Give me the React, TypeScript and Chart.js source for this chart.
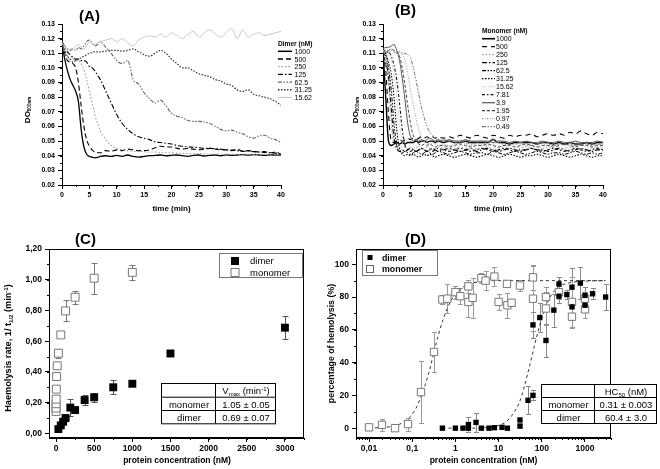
import React, { useEffect, useRef } from 'react';
import { Chart, registerables } from 'chart.js';

Chart.register(...registerables);

const FF = '"Liberation Sans", Arial, Helvetica, sans-serif';

// ================= Panel A : dimer kinetics =================
const timesA = [0, 0.5, 1, 1.5, 2, 2.5, 3, 3.5, 4, 4.5, 5, 5.5, 6, 6.5, 7,
  8, 9, 10, 11, 12, 13, 14, 15, 16, 17, 18, 19, 20, 21, 22, 23, 24, 25, 26, 27, 28, 29, 30, 31, 32, 33, 34, 35, 36, 37, 38, 39, 40];
const dimerLabelsA = ['1000', '500', '250', '125', '62.5', '31.25', '15.62'];
const dimer1000 = [0.117, 0.106, 0.098, 0.092, 0.088, 0.084, 0.077, 0.058, 0.046, 0.041, 0.0395, 0.039, 0.0385, 0.0388, 0.0395,
  0.0400, 0.0395, 0.0402, 0.0396, 0.0405, 0.0395, 0.0390, 0.0395, 0.0400, 0.0402, 0.0405, 0.0400, 0.0403, 0.0405, 0.0400, 0.0396, 0.0402,
  0.0405, 0.0398, 0.0403, 0.0405, 0.0400, 0.0406, 0.0402, 0.0405, 0.0408, 0.0404, 0.0407, 0.0405, 0.0402, 0.0406, 0.0404, 0.0405];
const dimer500 = [0.117, 0.110, 0.105, 0.104, 0.103, 0.100, 0.090, 0.074, 0.060, 0.051, 0.0465, 0.044, 0.0425, 0.042, 0.042,
  0.0435, 0.043, 0.044, 0.0435, 0.0445, 0.044, 0.0435, 0.0435, 0.044, 0.0455, 0.0465, 0.046, 0.046, 0.045, 0.0445, 0.045, 0.0445,
  0.044, 0.0445, 0.045, 0.0445, 0.044, 0.044, 0.0435, 0.0445, 0.043, 0.0435, 0.043, 0.0425, 0.0428, 0.042, 0.0425, 0.041];
const dimer250 = [0.117, 0.110, 0.108, 0.106, 0.106, 0.105, 0.105, 0.103, 0.099, 0.092, 0.084, 0.076, 0.068, 0.062, 0.057,
  0.051, 0.047, 0.045, 0.044, 0.0435, 0.043, 0.043, 0.0428, 0.0425, 0.0425, 0.042, 0.042, 0.042, 0.0418, 0.0415, 0.0415, 0.0413,
  0.0415, 0.0412, 0.041, 0.041, 0.0412, 0.041, 0.041, 0.0408, 0.041, 0.041, 0.0408, 0.0405, 0.041, 0.0405, 0.0405, 0.0405];
const dimer125 = [0.118, 0.114, 0.111, 0.109, 0.107, 0.106, 0.106, 0.105, 0.105, 0.104, 0.101, 0.100, 0.098, 0.095, 0.092,
  0.084, 0.076, 0.068, 0.062, 0.058, 0.055, 0.053, 0.052, 0.051, 0.0495, 0.049, 0.0485, 0.048, 0.047, 0.0465, 0.046, 0.0458,
  0.0455, 0.045, 0.045, 0.0448, 0.0445, 0.044, 0.0438, 0.0435, 0.043, 0.0432, 0.0428, 0.0425, 0.0423, 0.042, 0.0418, 0.041];
const dimer62 = [0.118, 0.115, 0.113, 0.112, 0.113, 0.112, 0.114, 0.113, 0.115, 0.118, 0.119, 0.117, 0.115, 0.116, 0.118,
  0.114, 0.110, 0.105, 0.103, 0.105, 0.092, 0.089, 0.083, 0.079, 0.076, 0.078, 0.074, 0.069, 0.067, 0.066, 0.064, 0.0635,
  0.0635, 0.063, 0.062, 0.060, 0.058, 0.057, 0.0575, 0.056, 0.055, 0.053, 0.052, 0.0535, 0.054, 0.052, 0.051, 0.049];
const dimer31 = [0.117, 0.112, 0.108, 0.106, 0.104, 0.105, 0.106, 0.107, 0.108, 0.109, 0.110, 0.1105, 0.111, 0.111, 0.111,
  0.1115, 0.112, 0.112, 0.1115, 0.112, 0.113, 0.111, 0.109, 0.108, 0.110, 0.112, 0.110, 0.106, 0.103, 0.100, 0.100, 0.098,
  0.096, 0.095, 0.094, 0.092, 0.091, 0.089, 0.088, 0.085, 0.084, 0.085, 0.082, 0.081, 0.080, 0.079, 0.077, 0.0745];
const dimer15 = [0.117, 0.114, 0.112, 0.113, 0.113, 0.115, 0.116, 0.114, 0.113, 0.115, 0.118, 0.117, 0.116, 0.117, 0.118,
  0.119, 0.120, 0.118, 0.120, 0.117, 0.115, 0.119, 0.121, 0.122, 0.121, 0.123, 0.121, 0.124, 0.122, 0.120, 0.123, 0.125,
  0.121, 0.124, 0.126, 0.123, 0.121, 0.124, 0.127, 0.120, 0.126, 0.121, 0.123, 0.124, 0.122, 0.123, 0.124, 0.125];
const xTicksA = [0, 5, 10, 15, 20, 25, 30, 35, 40];
const yTicksA = [0.02, 0.03, 0.04, 0.05, 0.06, 0.07, 0.08, 0.09, 0.10, 0.11, 0.12, 0.13];

// ================= Panel B : monomer kinetics =================
const timesB = [0, 0.5, 1, 1.5, 2, 2.5, 3, 3.5, 4, 4.5, 5, 5.5, 6, 6.5, 7, 7.5, 8, 8.5, 9, 9.5, 10,
  11, 12, 13, 14, 15, 16, 17, 18, 19, 20, 21, 22, 23, 24, 25, 26, 27, 28, 29, 30, 31, 32, 33, 34, 35, 36, 37, 38, 39, 40];
const monoLabelsB = ['1000', '500', '250', '125', '62.5', '31.25', '15.62', '7.81', '3.9', '1.95', '0.97', '0.49'];
const mono1000 = [0.112, 0.080, 0.050, 0.047, 0.048, 0.049, 0.048, 0.049, 0.048, 0.049, 0.049, 0.049, 0.050, 0.049, 0.050, 0.050, 0.049, 0.050, 0.050, 0.049, 0.050,
  0.049, 0.050, 0.049, 0.049, 0.050, 0.049, 0.049, 0.049, 0.049, 0.051, 0.049, 0.049, 0.048, 0.049, 0.049, 0.049, 0.049, 0.048, 0.049, 0.049,
  0.048, 0.049, 0.048, 0.049, 0.048, 0.048, 0.049, 0.048, 0.049, 0.049];
const mono500 = [0.110, 0.098, 0.068, 0.050, 0.049, 0.050, 0.051, 0.050, 0.051, 0.052, 0.051, 0.052, 0.051, 0.052, 0.053, 0.052, 0.053, 0.052, 0.053, 0.052, 0.053,
  0.052, 0.053, 0.052, 0.054, 0.053, 0.052, 0.054, 0.053, 0.052, 0.054, 0.053, 0.052, 0.054, 0.053, 0.054, 0.054, 0.055, 0.053, 0.054, 0.055,
  0.054, 0.055, 0.054, 0.056, 0.055, 0.057, 0.055, 0.054, 0.056, 0.055];
const mono250 = [0.112, 0.106, 0.088, 0.062, 0.047, 0.045, 0.046, 0.045, 0.046, 0.045, 0.046, 0.045, 0.046, 0.045, 0.044, 0.045, 0.046, 0.045, 0.044, 0.045, 0.046,
  0.045, 0.044, 0.045, 0.046, 0.045, 0.044, 0.045, 0.045, 0.046, 0.044, 0.045, 0.046, 0.045, 0.044, 0.045, 0.046, 0.045, 0.044, 0.045, 0.046,
  0.045, 0.044, 0.045, 0.046, 0.045, 0.045, 0.044, 0.045, 0.046, 0.045];
const mono125 = [0.108, 0.104, 0.094, 0.072, 0.052, 0.045, 0.043, 0.044, 0.043, 0.044, 0.045, 0.044, 0.043, 0.044, 0.045, 0.044, 0.043, 0.044, 0.045, 0.044, 0.043,
  0.044, 0.045, 0.044, 0.043, 0.044, 0.045, 0.043, 0.044, 0.045, 0.044, 0.043, 0.044, 0.045, 0.044, 0.043, 0.044, 0.045, 0.044, 0.044, 0.043,
  0.044, 0.045, 0.044, 0.043, 0.044, 0.045, 0.044, 0.043, 0.044, 0.044];
const mono62 = [0.110, 0.108, 0.100, 0.085, 0.062, 0.047, 0.043, 0.042, 0.043, 0.042, 0.041, 0.042, 0.043, 0.042, 0.041, 0.042, 0.043, 0.042, 0.041, 0.042, 0.043,
  0.042, 0.041, 0.042, 0.043, 0.042, 0.041, 0.042, 0.042, 0.041, 0.043, 0.042, 0.041, 0.042, 0.043, 0.042, 0.041, 0.042, 0.043, 0.042, 0.041,
  0.042, 0.042, 0.041, 0.042, 0.043, 0.042, 0.041, 0.042, 0.041, 0.042];
const mono31 = [0.114, 0.110, 0.104, 0.096, 0.080, 0.058, 0.045, 0.041, 0.040, 0.041, 0.040, 0.041, 0.040, 0.039, 0.040, 0.041, 0.040, 0.041, 0.040, 0.039, 0.040,
  0.041, 0.040, 0.039, 0.040, 0.041, 0.040, 0.039, 0.040, 0.041, 0.040, 0.039, 0.040, 0.041, 0.040, 0.039, 0.040, 0.040, 0.041, 0.040, 0.039,
  0.040, 0.041, 0.040, 0.039, 0.040, 0.041, 0.040, 0.039, 0.040, 0.040];
const mono15 = [0.112, 0.111, 0.109, 0.105, 0.096, 0.080, 0.062, 0.050, 0.046, 0.045, 0.046, 0.045, 0.046, 0.047, 0.046, 0.045, 0.046, 0.047, 0.046, 0.045, 0.046,
  0.046, 0.045, 0.046, 0.047, 0.046, 0.045, 0.046, 0.047, 0.046, 0.045, 0.046, 0.047, 0.046, 0.045, 0.046, 0.046, 0.047, 0.046, 0.045, 0.046,
  0.047, 0.046, 0.045, 0.046, 0.046, 0.047, 0.046, 0.045, 0.046, 0.046];
const mono7 = [0.108, 0.110, 0.111, 0.108, 0.102, 0.092, 0.076, 0.058, 0.047, 0.044, 0.043, 0.044, 0.043, 0.044, 0.045, 0.044, 0.043, 0.044, 0.043, 0.044, 0.045,
  0.044, 0.043, 0.044, 0.045, 0.044, 0.043, 0.044, 0.045, 0.044, 0.043, 0.044, 0.045, 0.044, 0.043, 0.044, 0.044, 0.045, 0.044, 0.043, 0.044,
  0.045, 0.044, 0.043, 0.044, 0.045, 0.044, 0.043, 0.044, 0.045, 0.044];
const mono3 = [0.113, 0.114, 0.114, 0.115, 0.116, 0.112, 0.105, 0.093, 0.078, 0.062, 0.053, 0.050, 0.051, 0.050, 0.051, 0.050, 0.051, 0.052, 0.051, 0.050, 0.051,
  0.050, 0.051, 0.050, 0.050, 0.051, 0.050, 0.050, 0.050, 0.050, 0.049, 0.050, 0.050, 0.049, 0.050, 0.049, 0.050, 0.049, 0.049, 0.050, 0.049,
  0.049, 0.050, 0.049, 0.049, 0.050, 0.049, 0.049, 0.049, 0.050, 0.049];
const mono1_95 = [0.110, 0.111, 0.112, 0.113, 0.112, 0.111, 0.108, 0.100, 0.088, 0.074, 0.062, 0.054, 0.050, 0.048, 0.047, 0.048, 0.047, 0.048, 0.047, 0.046, 0.047,
  0.047, 0.046, 0.047, 0.048, 0.047, 0.046, 0.047, 0.047, 0.048, 0.047, 0.046, 0.047, 0.047, 0.046, 0.047, 0.048, 0.047, 0.046, 0.047, 0.047,
  0.046, 0.047, 0.048, 0.047, 0.046, 0.047, 0.047, 0.046, 0.047, 0.047];
const mono0_97 = [0.112, 0.113, 0.112, 0.113, 0.112, 0.111, 0.111, 0.110, 0.105, 0.096, 0.085, 0.075, 0.066, 0.058, 0.053, 0.050, 0.049, 0.048, 0.049, 0.048, 0.047,
  0.048, 0.047, 0.048, 0.049, 0.048, 0.047, 0.048, 0.048, 0.047, 0.048, 0.049, 0.048, 0.047, 0.048, 0.048, 0.047, 0.048, 0.049, 0.048, 0.047,
  0.048, 0.048, 0.047, 0.048, 0.049, 0.048, 0.047, 0.048, 0.048, 0.047];
const mono0_49 = [0.110, 0.111, 0.111, 0.112, 0.111, 0.110, 0.111, 0.110, 0.110, 0.109, 0.107, 0.100, 0.092, 0.082, 0.073, 0.066, 0.060, 0.056, 0.054, 0.052, 0.050,
  0.051, 0.050, 0.049, 0.050, 0.049, 0.048, 0.049, 0.050, 0.049, 0.052, 0.049, 0.048, 0.049, 0.048, 0.049, 0.048, 0.047, 0.048, 0.049, 0.048,
  0.047, 0.048, 0.049, 0.048, 0.047, 0.048, 0.048, 0.047, 0.048, 0.048];

// ================= Panel C : haemolysis rate =================
const cDimerX = [31.25, 62.5, 93.75, 125, 187.5, 250, 375, 500, 750, 1000, 1500, 3000];
const cDimerY = [0.028, 0.052, 0.076, 0.100, 0.168, 0.152, 0.217, 0.235, 0.300, 0.323, 0.520, 0.688];
const cDimerErr = [0.005, 0.006, 0.006, 0.008, 0.057, 0.008, 0.035, 0.030, 0.045, 0.008, 0.008, 0.075];
const cMonoX = [0.24, 0.49, 0.97, 1.95, 3.9, 7.81, 15.62, 31.25, 62.5, 125, 250, 500, 1000];
const cMonoY = [0.143, 0.165, 0.193, 0.223, 0.288, 0.370, 0.440, 0.522, 0.641, 0.797, 0.886, 1.010, 1.048];
const cMonoErr = [0.008, 0.008, 0.008, 0.008, 0.010, 0.012, 0.015, 0.030, 0.012, 0.068, 0.042, 0.100, 0.050];
const xTicksC = [0, 500, 1000, 1500, 2000, 2500, 3000];
const yTicksC = [0, 0.2, 0.4, 0.6, 0.8, 1.0, 1.2];

// ================= Panel D : percentage of hemolysis =================
const dMonoX = [0.01, 0.02, 0.04, 0.08, 0.16, 0.32, 0.5, 0.65, 1, 1.3, 2, 2, 2.5, 4, 5, 8, 10, 15.6, 16, 20, 31.25, 62.5, 62.5, 125, 125, 250, 500, 500, 1000, 1000];
const dMonoY = [0.5, 2, 0, 2.5, 22, 46.5, 78.5, 79, 83, 80.5, 86.5, 77, 79.5, 91.5, 90, 92.5, 77, 88, 75, 76.5, 87, 92, 79, 80, 73, 83, 77, 68, 79, 72.5];
const dMonoErr = [0, 3.5, 0, 4, 19, 12, 3, 9, 4, 5, 4, 9, 12, 3, 6, 6, 5, 2, 7.5, 2, 3.5, 7.5, 20, 6, 10, 4, 15, 7, 4, 5];
const dDimerX = [0.5, 1, 1.5, 2, 2, 3, 4, 6, 8, 12, 16, 31.25, 31.25, 48, 62.5, 62.5, 90, 125, 190, 250, 250, 380, 500, 500, 780, 1000, 1000, 1500, 3000];
const dDimerY = [0, 0, 0, 2.2, 0, 3.5, 0, 0, 0.3, 0.5, 0, 5, 1.3, 17, 20, 63, 67.5, 53.5, 72, 88, 80.5, 81.5, 86, 74, 88.5, 81, 75, 82, 80];
const dDimerErr = [0, 0, 0, 4.5, 0, 6, 0, 0, 0, 0, 0, 0, 1.5, 8.5, 3, 8, 9, 10, 10, 4, 4, 3, 12, 4, 10, 5, 3, 3.5, 8];
const dFitMonoX = [0.01, 0.02, 0.04, 0.06, 0.08, 0.1, 0.13, 0.16, 0.2, 0.25, 0.31, 0.4, 0.5, 0.65, 0.8, 1, 1.5, 2, 3, 5, 10, 30, 100, 300, 1000, 3000];
const dFitMonoY = [0.1, 0.4, 1.5, 3.3, 5.8, 8.5, 13.5, 19.5, 26.5, 35, 45, 56.5, 65, 73, 78, 82, 86, 88, 89, 89.7, 90, 90, 90, 90, 90, 90];
const dFitDimerX = [0.5, 1, 2, 5, 10, 15, 20, 30, 40, 50, 60.4, 75, 90, 110, 130, 160, 200, 250, 300, 500, 1000, 3000];
const dFitDimerY = [0, 0, 0, 0.4, 1.7, 4, 7.5, 15.5, 26, 36, 45, 55, 63, 70.5, 75.5, 80.5, 84, 86.5, 87.5, 89, 89.7, 90];
const xTicksD = [0.01, 0.1, 1, 10, 100, 1000];
const yTicksD = [0, 20, 40, 60, 80, 100];

// ================= styles =================
type St = { c: string; w: number; d: number[] };
const stylesA: St[] = [
  { c: '#000', w: 1.3, d: [] },
  { c: '#000', w: 1.1, d: [5, 3] },
  { c: '#9a9a9a', w: 1.1, d: [1.5, 2] },
  { c: '#000', w: 1.1, d: [5, 2, 1.5, 2] },
  { c: '#666', w: 1.1, d: [4, 1.5, 1.5, 1.5, 1.5, 1.5] },
  { c: '#333', w: 1.2, d: [1.5, 1.5] },
  { c: '#c8c8c8', w: 1, d: [] },
];
const stylesB: St[] = [
  { c: '#000', w: 1.4, d: [] },
  { c: '#000', w: 1.1, d: [5, 4] },
  { c: '#a0a0a0', w: 1, d: [1.5, 2] },
  { c: '#000', w: 1.1, d: [5, 2, 1.5, 2] },
  { c: '#000', w: 1, d: [4, 1.5, 1.5, 1.5, 1.5, 1.5] },
  { c: '#000', w: 1.1, d: [1.5, 1.5] },
  { c: '#c8c8c8', w: 1, d: [1, 1] },
  { c: '#111', w: 1.1, d: [3, 2, 1.5, 2] },
  { c: '#555', w: 1, d: [] },
  { c: '#444', w: 1, d: [3, 2] },
  { c: '#999', w: 1, d: [1, 1.5] },
  { c: '#777', w: 1, d: [4, 1.5, 1.5, 1.5, 1.5, 1.5] },
];

// ================= helpers =================
type Seg = { t: string; s: number; b?: boolean; dy?: number };
const fnt = (g: Seg) => `${g.b ? 'bold ' : ''}${g.s}px ${FF}`;

function drawRich(ctx: CanvasRenderingContext2D, segs: Seg[], x: number, y: number, align = 'center', rot = 0) {
  ctx.save();
  ctx.translate(x, y);
  if (rot) ctx.rotate(rot);
  ctx.textAlign = 'left';
  ctx.textBaseline = 'alphabetic';
  ctx.fillStyle = '#000';
  let w = 0;
  for (const g of segs) { ctx.font = fnt(g); w += ctx.measureText(g.t).width; }
  let cx = align === 'center' ? -w / 2 : align === 'right' ? -w : 0;
  const base = segs[0].s * 0.36;
  for (const g of segs) {
    ctx.font = fnt(g);
    ctx.fillText(g.t, cx, base + (g.dy || 0));
    cx += ctx.measureText(g.t).width;
  }
  ctx.restore();
}

function drawLineLegend(ctx: CanvasRenderingContext2D, x: number, yHead: number, y0: number, dy: number,
  header: string, labels: string[], styles: St[], sampleW: number, textX: number) {
  drawRich(ctx, [{ t: header, s: 6.6, b: true }], x, yHead, 'left');
  labels.forEach((lab, i) => {
    const y = y0 + i * dy;
    const st = styles[i];
    ctx.save();
    ctx.strokeStyle = st.c; ctx.lineWidth = st.w + 0.2; ctx.setLineDash(st.d);
    ctx.beginPath(); ctx.moveTo(x, y); ctx.lineTo(x + sampleW, y); ctx.stroke();
    ctx.restore();
    drawRich(ctx, [{ t: lab, s: 7 }], textX, y, 'left');
  });
}

function drawTable(ctx: CanvasRenderingContext2D, x0: number, xm: number, x1: number, ys: number[], cells: Seg[][][]) {
  ctx.save();
  ctx.fillStyle = '#fff';
  ctx.fillRect(x0, ys[0], x1 - x0, ys[3] - ys[0]);
  ctx.strokeStyle = '#000'; ctx.lineWidth = 1;
  ctx.strokeRect(x0 + 0.5, ys[0] + 0.5, x1 - x0, ys[3] - ys[0]);
  ctx.beginPath();
  ctx.moveTo(xm + 0.5, ys[0]); ctx.lineTo(xm + 0.5, ys[3]);
  ctx.moveTo(x0, ys[1] + 0.5); ctx.lineTo(x1, ys[1] + 0.5);
  ctx.moveTo(x0, ys[2] + 0.5); ctx.lineTo(x1, ys[2] + 0.5);
  ctx.stroke();
  ctx.restore();
  for (let r = 0; r < 3; r++) {
    for (let c = 0; c < 2; c++) {
      const cell = cells[r][c];
      if (!cell.length) continue;
      drawRich(ctx, cell, c === 0 ? (x0 + xm) / 2 + 1 : (xm + x1) / 2 + 1, (ys[r] + ys[r + 1]) / 2 + 1, 'center');
    }
  }
}

function drawMarker(ctx: CanvasRenderingContext2D, x: number, y: number, side: number, filled: boolean, edge: string) {
  ctx.save();
  if (filled) { ctx.fillStyle = '#000'; ctx.fillRect(x - side / 2, y - side / 2, side, side); }
  else {
    ctx.fillStyle = '#fff'; ctx.fillRect(x - side / 2, y - side / 2, side, side);
    ctx.strokeStyle = edge; ctx.lineWidth = 1; ctx.strokeRect(x - side / 2, y - side / 2, side, side);
  }
  ctx.restore();
}

function minorTicks(chart: any, xs: number[], ys: number[], len = 2) {
  const { ctx, chartArea: a, scales } = chart;
  ctx.save();
  ctx.strokeStyle = '#000'; ctx.lineWidth = 1;
  ctx.beginPath();
  xs.forEach((v) => {
    const px = Math.round(scales.x.getPixelForValue(v)) + 0.5;
    ctx.moveTo(px, a.bottom); ctx.lineTo(px, a.bottom + len);
  });
  ys.forEach((v) => {
    const py = Math.round(scales.y.getPixelForValue(v)) + 0.5;
    ctx.moveTo(a.left - len, py); ctx.lineTo(a.left, py);
  });
  ctx.stroke();
  ctx.restore();
}

function boxAround(chart: any) {
  const { ctx, chartArea: a } = chart;
  ctx.save();
  ctx.strokeStyle = '#000'; ctx.lineWidth = 1;
  ctx.strokeRect(Math.round(a.left) + 0.5, Math.round(a.top) + 0.5, Math.round(a.right - a.left) - 1, Math.round(a.bottom - a.top) - 1);
  ctx.restore();
}

const errorBarPlugin = {
  id: 'errbars',
  beforeDatasetsDraw(chart: any) {
    const { ctx, scales } = chart;
    chart.data.datasets.forEach((ds: any) => {
      if (!ds.errY) return;
      ctx.save();
      ctx.strokeStyle = ds.errColor || '#666'; ctx.lineWidth = 1;
      ctx.beginPath();
      ds.data.forEach((p: any, i: number) => {
        const e = ds.errY[i];
        if (!e) return;
        const px = Math.round(scales.x.getPixelForValue(p.x)) + 0.5;
        const y1 = Math.round(scales.y.getPixelForValue(p.y + e)) + 0.5;
        const y2 = Math.round(scales.y.getPixelForValue(p.y - e)) + 0.5;
        const cw = ds.capW || 2.5;
        ctx.moveTo(px, y1); ctx.lineTo(px, y2);
        ctx.moveTo(px - cw, y1); ctx.lineTo(px + cw, y1);
        ctx.moveTo(px - cw, y2); ctx.lineTo(px + cw, y2);
      });
      ctx.stroke();
      ctx.restore();
    });
  },
};

function axis(type: string, min: number, max: number, ticks: number[], fmt: (v: number) => string,
  size: number, which: 'x' | 'y', fit: number) {
  return {
    type, min, max,
    position: which === 'x' ? 'bottom' : 'left',
    afterBuildTicks: (s: any) => { s.ticks = ticks.map((v) => ({ value: v })); },
    afterFit: (s: any) => { if (which === 'x') s.height = fit; else s.width = fit; },
    grid: { display: true, drawOnChartArea: false, drawTicks: true, tickLength: 4, color: '#000', lineWidth: 1 },
    border: { display: true, color: '#000', width: 1 },
    ticks: {
      color: '#000', font: { family: FF, size, weight: 'bold' }, padding: which === 'x' ? 2 : 3,
      autoSkip: false, maxRotation: 0, minRotation: 0, includeBounds: false,
      callback: (v: any) => fmt(Number(v)),
    },
    title: { display: false },
  };
}

const lineDs = (times: number[], vals: number[], st: St) => ({
  data: times.map((t, i) => ({ x: t, y: vals[i] })),
  borderColor: st.c, borderWidth: st.w, borderDash: st.d,
  pointRadius: 0, fill: false, cubicInterpolationMode: 'monotone',
});

const baseOpts = (padding: any) => ({
  responsive: false, animation: false, events: [],
  layout: { padding },
  plugins: { legend: { display: false }, tooltip: { enabled: false }, title: { display: false } },
});

// ================= chart configs =================
function configA(): any {
  const series = [dimer1000, dimer500, dimer250, dimer125, dimer62, dimer31, dimer15];
  const minX: number[] = []; for (let v = 0; v <= 40; v += 2.5) minX.push(v);
  const minY: number[] = []; for (let v = 0.02; v <= 0.1301; v += 0.005) minY.push(v);
  return {
    type: 'line',
    data: { datasets: series.map((s, i) => lineDs(timesA, s, stylesA[i])).reverse() },
    options: {
      ...baseOpts({ left: 0, top: 24, right: 49, bottom: 0 }),
      scales: {
        x: axis('linear', 0, 40, xTicksA, (v) => String(v), 7, 'x', 45),
        y: axis('linear', 0.02, 0.13, yTicksA, (v) => v.toFixed(2), 7, 'y', 62),
      },
    },
    plugins: [{
      id: 'decorA',
      afterDraw(chart: any) {
        const ctx = chart.ctx;
        minorTicks(chart, minX, minY);
        drawRich(ctx, [{ t: '(A)', s: 15, b: true }], 89.5, 16, 'center');
        drawRich(ctx, [{ t: 'DO', s: 8, b: true }, { t: '600nm', s: 4.5, b: true, dy: 1.5 }], 27, 110, 'center', -Math.PI / 2);
        drawRich(ctx, [{ t: 'time (min)', s: 8, b: true }], 171.5, 208, 'center');
        drawLineLegend(ctx, 278, 43.3, 51.3, 7.7, 'Dimer (nM)', dimerLabelsA, stylesA, 14, 294.5);
      },
    }],
  };
}

function configB(): any {
  const series = [mono1000, mono500, mono250, mono125, mono62, mono31, mono15, mono7, mono3, mono1_95, mono0_97, mono0_49];
  const minX: number[] = []; for (let v = 0; v <= 40; v += 2.5) minX.push(v);
  const minY: number[] = []; for (let v = 0.02; v <= 0.1301; v += 0.005) minY.push(v);
  return {
    type: 'line',
    data: { datasets: series.map((s, i) => lineDs(timesB, s, stylesB[i])).reverse() },
    options: {
      ...baseOpts({ left: 0, top: 24, right: 57, bottom: 0 }),
      scales: {
        x: axis('linear', 0, 40, xTicksA, (v) => String(v), 7, 'x', 45),
        y: axis('linear', 0.02, 0.13, yTicksA, (v) => v.toFixed(2), 7, 'y', 53),
      },
    },
    plugins: [{
      id: 'decorB',
      afterDraw(chart: any) {
        const ctx = chart.ctx;
        minorTicks(chart, minX, minY);
        drawRich(ctx, [{ t: '(B)', s: 15, b: true }], 75.5, 9.5, 'center');
        drawRich(ctx, [{ t: 'DO', s: 8, b: true }, { t: '600nm', s: 4.5, b: true, dy: 1.5 }], 25, 110, 'center', -Math.PI / 2);
        drawRich(ctx, [{ t: 'time (min)', s: 8, b: true }], 163, 208, 'center');
        drawLineLegend(ctx, 152, 31, 38.7, 8, 'Monomer (nM)', monoLabelsB, stylesB, 13, 166);
      },
    }],
  };
}

function configC(): any {
  const minX: number[] = []; for (let v = 0; v <= 3250; v += 250) minX.push(v);
  const minY: number[] = []; for (let v = 0; v <= 1.2001; v += 0.1) minY.push(v);
  const fmtC = (v: number) => v.toFixed(2).replace('.', ',');
  return {
    type: 'scatter',
    data: {
      datasets: [
        {
          data: cDimerX.map((x, i) => ({ x, y: cDimerY[i] })), errY: cDimerErr, errColor: '#555', capW: 3,
          pointStyle: 'rect', pointRadius: 5.6, backgroundColor: '#000', borderColor: '#000', borderWidth: 0,
        },
        {
          data: cMonoX.map((x, i) => ({ x, y: cMonoY[i] })), errY: cMonoErr, errColor: '#777', capW: 3,
          pointStyle: 'rect', pointRadius: 5.6, backgroundColor: '#fff', borderColor: '#777', borderWidth: 1,
        },
      ],
    },
    options: {
      ...baseOpts({ left: 0, top: 19, right: 14, bottom: 0 }),
      scales: {
        x: axis('linear', -92, 3250, xTicksC, (v) => String(v), 8.5, 'x', 31),
        y: axis('linear', -0.03, 1.2, yTicksC, fmtC, 8.5, 'y', 49),
      },
    },
    plugins: [errorBarPlugin, {
      id: 'decorC',
      afterDraw(chart: any) {
        const ctx = chart.ctx;
        boxAround(chart);
        minorTicks(chart, minX, minY);
        drawRich(ctx, [{ t: '(C)', s: 15, b: true }], 85.5, 8.5, 'center');
        drawRich(ctx, [{ t: 'Haemolysis rate, 1/ t', s: 9.2, b: true }, { t: '1/2', s: 6, b: true, dy: 2 },
          { t: ' (min', s: 9.2, b: true }, { t: '-1', s: 6, b: true, dy: -3.8 }, { t: ')', s: 9.2, b: true }], 8, 118, 'center', -Math.PI / 2);
        drawRich(ctx, [{ t: 'protein concentration (nM)', s: 8.5, b: true }], 177, 230, 'center');
        // legend
        ctx.save(); ctx.fillStyle = '#fff'; ctx.fillRect(219, 23, 83, 24);
        ctx.strokeStyle = '#777'; ctx.lineWidth = 1; ctx.strokeRect(219.5, 23.5, 83, 24); ctx.restore();
        drawMarker(ctx, 235, 31, 8, true, '#000');
        drawMarker(ctx, 235, 42.5, 8, false, '#777');
        drawRich(ctx, [{ t: 'dimer', s: 9.5 }], 250, 31, 'left');
        drawRich(ctx, [{ t: 'monomer', s: 9.5 }], 250, 42.5, 'left');
        drawTable(ctx, 161, 215, 275, [153, 166.7, 180, 193.3], [
          [[], [{ t: 'V', s: 9.5 }, { t: 'max', s: 6, dy: 2 }, { t: ' (min', s: 9.5 }, { t: '-1', s: 6, dy: -3.5 }, { t: ')', s: 9.5 }]],
          [[{ t: 'monomer', s: 9.5 }], [{ t: '1.05 ± 0.05', s: 9.5 }]],
          [[{ t: 'dimer', s: 9.5 }], [{ t: '0.69 ± 0.07', s: 9.5 }]],
        ]);
      },
    }],
  };
}

function configD(): any {
  const minX: number[] = [];
  for (let k = -3; k <= 3; k++) for (let m = 2; m <= 9; m++) {
    const v = m * Math.pow(10, k);
    if (v >= 0.005 && v <= 4000) minX.push(v);
  }
  const minY: number[] = []; for (let v = 0; v <= 100; v += 10) minY.push(v);
  return {
    type: 'scatter',
    data: {
      datasets: [
        {
          data: dDimerX.map((x, i) => ({ x, y: dDimerY[i] })), errY: dDimerErr, errColor: '#888', capW: 2.5,
          pointStyle: 'rect', pointRadius: 3.8, backgroundColor: '#000', borderColor: '#000', borderWidth: 0,
        },
        {
          data: dMonoX.map((x, i) => ({ x, y: dMonoY[i] })), errY: dMonoErr, errColor: '#999', capW: 2.5,
          pointStyle: 'rect', pointRadius: 5.2, backgroundColor: '#fff', borderColor: '#777', borderWidth: 1,
        },
        {
          data: dFitMonoX.map((x, i) => ({ x, y: dFitMonoY[i] })), showLine: true, pointRadius: 0,
          borderColor: '#333', borderWidth: 1, borderDash: [3, 3], cubicInterpolationMode: 'monotone',
        },
        {
          data: dFitDimerX.map((x, i) => ({ x, y: dFitDimerY[i] })), showLine: true, pointRadius: 0,
          borderColor: '#333', borderWidth: 1, borderDash: [3, 3], cubicInterpolationMode: 'monotone',
        },
      ],
    },
    options: {
      ...baseOpts({ left: 0, top: 19, right: 49, bottom: 0 }),
      scales: {
        x: axis('logarithmic', 0.005, 4000, xTicksD, (v) => String(v).replace('.', ','), 8.5, 'x', 31),
        y: axis('linear', -6, 109.3, yTicksD, (v) => String(v), 8.5, 'y', 38),
      },
    },
    plugins: [errorBarPlugin, {
      id: 'decorD',
      afterDraw(chart: any) {
        const ctx = chart.ctx;
        boxAround(chart);
        minorTicks(chart, minX, minY);
        drawRich(ctx, [{ t: '(D)', s: 15, b: true }], 97.5, 8.5, 'center');
        drawRich(ctx, [{ t: 'percentage of hemolysis (%)', s: 8.8, b: true }], 13, 113.5, 'center', -Math.PI / 2);
        drawRich(ctx, [{ t: 'protein concentration (nM)', s: 8.5, b: true }], 165.5, 230, 'center');
        ctx.save(); ctx.fillStyle = '#fff'; ctx.fillRect(44, 20, 75, 25);
        ctx.strokeStyle = '#777'; ctx.lineWidth = 1; ctx.strokeRect(44.5, 20.5, 75, 25); ctx.restore();
        drawMarker(ctx, 52, 27.5, 5, true, '#000');
        drawMarker(ctx, 52, 39, 7, false, '#666');
        drawRich(ctx, [{ t: 'dimer', s: 8.8, b: true }], 64, 27.5, 'left');
        drawRich(ctx, [{ t: 'monomer', s: 8.8, b: true }], 64, 39, 'left');
        drawTable(ctx, 223, 276, 338, [154, 167, 180, 193], [
          [[], [{ t: 'HC', s: 9.5 }, { t: '50', s: 6, dy: 2 }, { t: ' (nM)', s: 9.5 }]],
          [[{ t: 'monomer', s: 9.5 }], [{ t: '0.31 ± 0.003', s: 9.5 }]],
          [[{ t: 'dimer', s: 9.5 }], [{ t: '60.4 ± 3.0', s: 9.5 }]],
        ]);
      },
    }],
  };
}

function Panel({ left, top, width, height, make }: { left: number; top: number; width: number; height: number; make: () => any }) {
  const ref = useRef<HTMLCanvasElement>(null);
  useEffect(() => {
    const chart = new Chart(ref.current as HTMLCanvasElement, make());
    return () => chart.destroy();
  }, []);
  return (
    <canvas ref={ref} width={width} height={height}
      style={{ position: 'absolute', left, top, width, height }} />
  );
}

export default function App() {
  return (
    <div style={{ position: 'absolute', left: 0, top: 0, width: 660, height: 469, background: '#fff', overflow: 'hidden' }}>
      <Panel left={0} top={0} width={330} height={230} make={configA} />
      <Panel left={330} top={0} width={330} height={230} make={configB} />
      <Panel left={0} top={230} width={318} height={239} make={configC} />
      <Panel left={318} top={230} width={342} height={239} make={configD} />
    </div>
  );
}
